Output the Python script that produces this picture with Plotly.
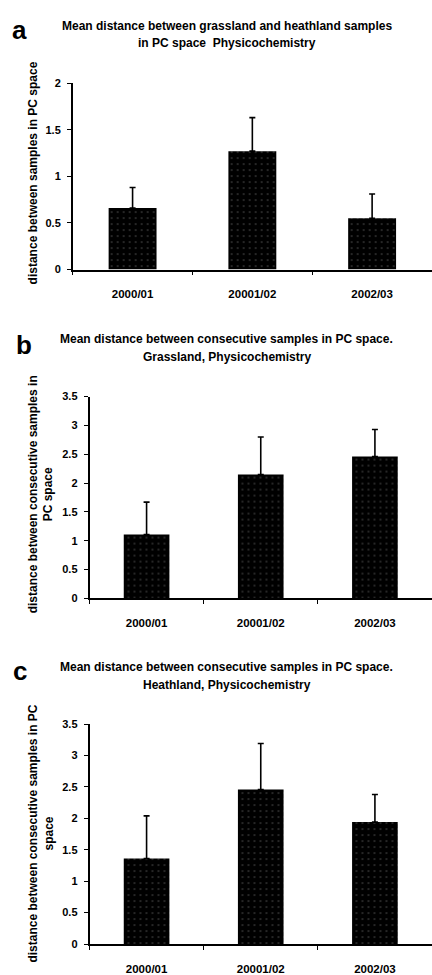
import plotly.graph_objects as go

# ---------------- data ----------------
categories = ["2000/01", "20001/02", "2002/03"]

means_a = [0.66, 1.27, 0.55]
upper_a = [0.88, 1.63, 0.81]

means_b = [1.11, 2.15, 2.46]
upper_b = [1.67, 2.80, 2.93]

means_c = [1.36, 2.46, 1.94]
upper_c = [2.04, 3.19, 2.38]

yticks_a = [0, 0.5, 1, 1.5, 2]
yticks_bc = [0, 0.5, 1, 1.5, 2, 2.5, 3, 3.5]

titles_a = ["Mean distance between grassland and heathland samples",
            "in PC space  Physicochemistry"]
titles_b = ["Mean distance between consecutive samples in PC space.",
            "Grassland, Physicochemistry"]
titles_c = ["Mean distance between consecutive samples in PC space.",
            "Heathland, Physicochemistry"]

ytitle_a = "distance between samples in PC space"
ytitle_b = "distance between consecutive samples in<br>PC space"
ytitle_c = "distance between consecutive samples in PC<br>space"

letters = ["a", "b", "c"]

# ---------------- layout helpers ----------------
W, H = 432, 975
FONT = "Liberation Sans, Arial, sans-serif"


def fx(px):
    return px / W


def fy(py):
    return 1 - py / H


panels = [
    dict(means=means_a, upper=upper_a, yticks=yticks_a, ymax=2,
         xl=72.7, yb=267.7, yt=78.3, titles=titles_a, tys=[20, 38],
         ytitle=ytitle_a, ytx=33, yty=170, letter=letters[0], lpos=(19.5, 24)),
    dict(means=means_b, upper=upper_b, yticks=yticks_bc, ymax=3.5,
         xl=89.5, yb=601.7, yt=396.7, titles=titles_b, tys=[338, 356.5],
         ytitle=ytitle_b, ytx=41, yty=496, letter=letters[1], lpos=(23.5, 344)),
    dict(means=means_c, upper=upper_c, yticks=yticks_bc, ymax=3.5,
         xl=89.5, yb=952.7, yt=729.3, titles=titles_c, tys=[671.5, 690],
         ytitle=ytitle_c, ytx=41.5, yty=841, letter=letters[2], lpos=(20, 675)),
]

fig = go.Figure()
annotations = []
layout_axes = {}

for i, p in enumerate(panels):
    n = "" if i == 0 else str(i + 1)
    xa, ya = "x" + n, "y" + n
    errs = [u - m for u, m in zip(p["upper"], p["means"])]
    fig.add_trace(go.Bar(
        x=categories, y=p["means"], xaxis=xa, yaxis=ya,
        marker=dict(color="black", line=dict(width=0),
                    pattern=dict(shape=".", fgcolor="#6a6a6a", bgcolor="black",
                                 size=6, solidity=0.08)),
        error_y=dict(type="data", symmetric=False, array=errs,
                     arrayminus=[0] * len(errs), color="black",
                     thickness=1.6, width=3),
        showlegend=False,
    ))
    layout_axes["xaxis" + n] = dict(
        domain=[fx(p["xl"]), 1.0], anchor=ya, type="category",
        range=[-0.5, 2.5], showline=True, linecolor="black", linewidth=1.5,
        ticks="outside", tickson="boundaries", ticklen=4, tickcolor="black",
        tickwidth=1.2, showgrid=False, zeroline=False,
        tickfont=dict(family=FONT, size=11.5, color="black", weight="bold"),
        ticklabelstandoff=13,
    )
    layout_axes["yaxis" + n] = dict(
        domain=[fy(p["yb"]), fy(p["yt"])], anchor=xa,
        range=[0, p["ymax"]], tickvals=p["yticks"], showline=True,
        linecolor="black", linewidth=1.5, ticks="outside", ticklen=4,
        tickcolor="black", tickwidth=1.2, showgrid=False, zeroline=False,
        tickfont=dict(family=FONT, size=11, color="black", weight="bold"),
        ticklabelstandoff=4,
    )
    for t, ty in zip(p["titles"], p["tys"]):
        annotations.append(dict(
            text=t, x=fx(227), y=fy(ty), xref="paper", yref="paper",
            xanchor="center", yanchor="middle", showarrow=False,
            font=dict(family=FONT, size=12, color="black", weight="bold"),
        ))
    annotations.append(dict(
        text=p["ytitle"], x=fx(p["ytx"]), y=fy(p["yty"]), xref="paper",
        yref="paper", xanchor="center", yanchor="middle", showarrow=False,
        textangle=-90,
        font=dict(family=FONT, size=12, color="black", weight="bold"),
    ))
    annotations.append(dict(
        text=p["letter"], x=fx(p["lpos"][0]), y=fy(p["lpos"][1]),
        xref="paper", yref="paper", xanchor="center", yanchor="middle",
        showarrow=False,
        font=dict(family=FONT, size=26, color="black", weight="bold"),
    ))

fig.update_layout(
    width=W, height=H, margin=dict(l=0, r=0, t=0, b=0),
    paper_bgcolor="white", plot_bgcolor="white",
    bargap=0.6, annotations=annotations, **layout_axes,
)

fig.write_html(
    "out.html",
    config={"displayModeBar": False},
    post_script="document.body.style.margin='0';"
                "document.body.style.overflow='hidden';",
)
